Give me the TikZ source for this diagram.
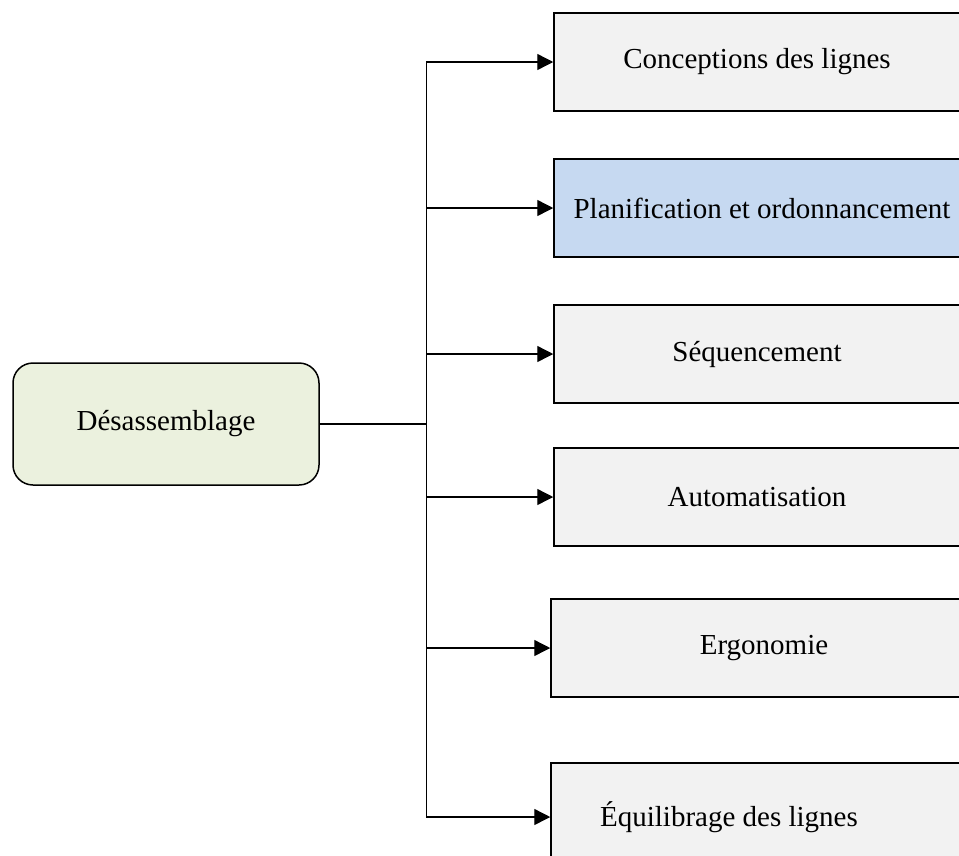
\documentclass[tikz,border=0pt]{standalone}
\usepackage{fontspec}
\setmainfont{Liberation Serif}
\usetikzlibrary{arrows.meta}
\usetikzlibrary{shapes}

\definecolor{boxgray}{HTML}{F2F2F2}
\definecolor{boxblue}{HTML}{C6D9F1}
\definecolor{boxgreen}{HTML}{EBF1DE}

\begin{document}
\begin{tikzpicture}
      [x=1pt,y=1pt,
        every node/.style={font=\fontsize{29}{35}\selectfont},
        branch/.style={draw,line width=1.5pt,fill=boxgray,
          minimum width=406pt,minimum height=98pt},
        grow'=right,
        level 1/.style={level distance=591pt,sibling distance=146pt},
        edge from parent/.style={draw,line width=1.4pt,
          -{Triangle[length=16pt,width=16pt]}},
        edge from parent path={(\tikzparentnode.east)
          -- ([xshift=107pt]\tikzparentnode.east) |- (\tikzchildnode.west)}]
  \useasboundingbox (0,0) rectangle (959,-855);
  \node[draw,line width=1.5pt,fill=boxgreen,rounded corners=20pt,
        minimum width=306pt,minimum height=122pt] (desass) at (166,-424) {Désassemblage}
  child[yshift=-3pt] { node[branch] (concep) {Conceptions des lignes} }
  child[yshift=-3pt] { node[branch,fill=boxblue] (planif) {\hspace*{10pt}Planification et ordonnancement} }
  child[yshift=-3pt] { node[branch] (sequen) {Séquencement} }
  child { node[branch] (automa) {Automatisation} }
  child[yshift=-5pt] { node[branch,minimum width=412pt] (ergono) {\hspace*{14pt}Ergonomie} }
  child[yshift=-28pt] { node[branch,minimum width=412pt,minimum height=108pt]
      (equili) {Équilibrage des lignes\hspace*{56pt}} };
\end{tikzpicture}
\end{document}
